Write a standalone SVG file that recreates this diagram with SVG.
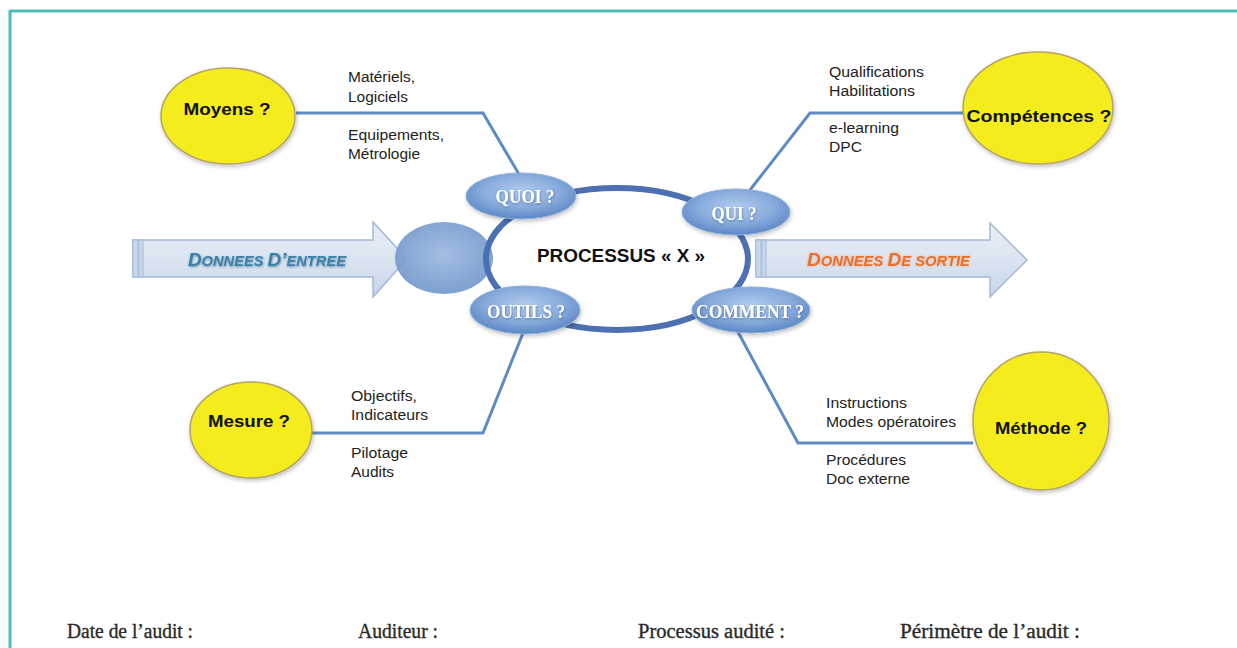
<svg xmlns="http://www.w3.org/2000/svg" width="1237" height="648" viewBox="0 0 1237 648">
<defs>
  <radialGradient id="bub" cx="50%" cy="40%" r="60%">
    <stop offset="0" stop-color="#b3cdee"/>
    <stop offset="0.6" stop-color="#86aadb"/>
    <stop offset="1" stop-color="#5b87c4"/>
  </radialGradient>
  <radialGradient id="blob" cx="50%" cy="45%" r="60%">
    <stop offset="0" stop-color="#9ab8e0"/>
    <stop offset="1" stop-color="#6f95c9"/>
  </radialGradient>
  <linearGradient id="arr" x1="0" y1="0" x2="0" y2="1">
    <stop offset="0" stop-color="#e6edf6"/>
    <stop offset="0.5" stop-color="#dbe5f1"/>
    <stop offset="1" stop-color="#c6d5e8"/>
  </linearGradient>
  <filter id="sh" x="-20%" y="-20%" width="140%" height="150%">
    <feDropShadow dx="1" dy="2" stdDeviation="2" flood-color="#000" flood-opacity="0.25"/>
  </filter>
  <filter id="glowO" x="-10%" y="-40%" width="120%" height="180%">
    <feDropShadow dx="0" dy="0" stdDeviation="1.5" flood-color="#f4a070" flood-opacity="0.8"/>
  </filter>
  <filter id="tsh" x="-10%" y="-30%" width="120%" height="160%">
    <feDropShadow dx="0.5" dy="1" stdDeviation="0.8" flood-color="#2a4f80" flood-opacity="0.6"/>
  </filter>
</defs>
<style>
  .frame{stroke:#4dbdb5;stroke-width:3;fill:none}
  .yel{fill:#f4ec1c;stroke:#b4a466;stroke-width:1.5;filter:url(#sh)}
  .ytx{font-family:"Liberation Sans",Arial,sans-serif;font-weight:bold;font-size:17px;fill:#111;text-anchor:middle}
  .bub{fill:url(#bub);stroke:#8eb0dc;stroke-width:1;filter:url(#sh)}
  .btx{font-family:"Liberation Serif","Times New Roman",serif;font-weight:bold;font-size:19px;fill:#fff;text-anchor:middle;filter:url(#tsh)}
  .lbl{font-family:"Liberation Sans",Arial,sans-serif;font-size:14px;fill:#222}
  .con{fill:none;stroke:#5f8ac4;stroke-width:3;stroke-linejoin:miter}
  .ring{fill:none;stroke:#4d70b3;stroke-width:6}
  .arrow{fill:url(#arr);stroke:#a4b9d5;stroke-width:1.5}
  .bar{fill:#c9d8ea;stroke:#a4b9d5;stroke-width:1}
  .foot{font-family:"Liberation Serif","Times New Roman",serif;font-size:20px;fill:#2a2a2a;stroke:#2a2a2a;stroke-width:0.35}
</style>

<rect width="1237" height="648" fill="#fff"/>
<g id="frame">
  <line class="frame" x1="10" y1="11" x2="1237" y2="11"/>
  <line class="frame" x1="10" y1="10" x2="10" y2="648"/>
</g>

<g id="connectors">
  <polyline class="con" points="296,113 483,113 520,176"/>
  <polyline class="con" points="963,113 810,113 750,190"/>
  <polyline class="con" points="312,433 483,433 523,333"/>
  <polyline class="con" points="738,332 798,443 973,443"/>
</g>

<g id="input-arrow">
  <path class="arrow" d="M133,240 H373 V222 L407,259 L373,297 V277 H133 Z"/>
  <rect class="bar" x="133" y="240" width="5" height="37"/>
  <rect class="bar" x="139" y="240" width="4" height="37"/>
  <text x="188" y="266" textLength="158" lengthAdjust="spacingAndGlyphs" font-family="Liberation Sans, Arial, sans-serif" font-weight="bold" font-style="italic" fill="#3a82aa" filter="url(#tsh)"><tspan font-size="18">D</tspan><tspan font-size="14">ONNEES </tspan><tspan font-size="18">D’</tspan><tspan font-size="14">ENTREE</tspan></text>
</g>

<g id="entry-blob">
  <ellipse cx="444" cy="258" rx="49" ry="36" fill="url(#blob)" opacity="0.92"/>
</g>

<g id="output-arrow">
  <path class="arrow" d="M756,240 H990 V223 L1027,260 L990,297 V277 H756 Z"/>
  <rect class="bar" x="756" y="240" width="5" height="37"/>
  <rect class="bar" x="762" y="240" width="4" height="37"/>
  <text x="807" y="266" textLength="163" lengthAdjust="spacingAndGlyphs" font-family="Liberation Sans, Arial, sans-serif" font-weight="bold" font-style="italic" fill="#e8702a" filter="url(#glowO)"><tspan font-size="18">D</tspan><tspan font-size="14">ONNEES </tspan><tspan font-size="18">D</tspan><tspan font-size="14">E SORTIE</tspan></text>
</g>

<g id="process">
  <ellipse class="ring" cx="617" cy="259" rx="131" ry="71"/>
  <text x="621" y="262" textLength="168" lengthAdjust="spacingAndGlyphs" font-family="Liberation Sans, Arial, sans-serif" font-weight="bold" font-size="18" fill="#111" text-anchor="middle">PROCESSUS « X »</text>
</g>

<g id="quoi">
  <ellipse class="bub" cx="521" cy="196" rx="55" ry="23"/>
  <text class="btx" x="525" y="203" textLength="59" lengthAdjust="spacingAndGlyphs">QUOI ?</text>
</g>
<g id="qui">
  <ellipse class="bub" cx="736" cy="212" rx="54" ry="23"/>
  <text class="btx" x="734" y="220" textLength="45" lengthAdjust="spacingAndGlyphs">QUI ?</text>
</g>
<g id="outils">
  <ellipse class="bub" cx="525" cy="310" rx="55" ry="24"/>
  <text class="btx" x="526" y="318" textLength="78" lengthAdjust="spacingAndGlyphs">OUTILS ?</text>
</g>
<g id="comment">
  <ellipse class="bub" cx="751" cy="310" rx="59" ry="23"/>
  <text class="btx" x="750" y="318" textLength="108" lengthAdjust="spacingAndGlyphs">COMMENT ?</text>
</g>

<g id="moyens">
  <ellipse class="yel" cx="228" cy="116" rx="67" ry="48"/>
  <text class="ytx" x="227" y="115" textLength="87" lengthAdjust="spacingAndGlyphs">Moyens ?</text>
</g>
<g id="competences">
  <ellipse class="yel" cx="1038" cy="108" rx="75" ry="56"/>
  <text class="ytx" x="1039" y="122" textLength="145" lengthAdjust="spacingAndGlyphs">Compétences ?</text>
</g>
<g id="mesure">
  <ellipse class="yel" cx="251" cy="430" rx="61" ry="48"/>
  <text class="ytx" x="249" y="427" textLength="82" lengthAdjust="spacingAndGlyphs">Mesure ?</text>
</g>
<g id="methode">
  <ellipse class="yel" cx="1041" cy="421" rx="68" ry="69"/>
  <text class="ytx" x="1041" y="434" textLength="92" lengthAdjust="spacingAndGlyphs">Méthode ?</text>
</g>

<g id="labels">
  <text class="lbl" x="348" y="82" textLength="67" lengthAdjust="spacingAndGlyphs">Matériels,</text>
  <text class="lbl" x="348" y="102" textLength="60" lengthAdjust="spacingAndGlyphs">Logiciels</text>
  <text class="lbl" x="348" y="140" textLength="96" lengthAdjust="spacingAndGlyphs">Equipements,</text>
  <text class="lbl" x="348" y="159" textLength="72" lengthAdjust="spacingAndGlyphs">Métrologie</text>

  <text class="lbl" x="829" y="77" textLength="95" lengthAdjust="spacingAndGlyphs">Qualifications</text>
  <text class="lbl" x="829" y="96" textLength="86" lengthAdjust="spacingAndGlyphs">Habilitations</text>
  <text class="lbl" x="829" y="133" textLength="70" lengthAdjust="spacingAndGlyphs">e-learning</text>
  <text class="lbl" x="829" y="152" textLength="33" lengthAdjust="spacingAndGlyphs">DPC</text>

  <text class="lbl" x="351" y="401" textLength="66" lengthAdjust="spacingAndGlyphs">Objectifs,</text>
  <text class="lbl" x="351" y="420" textLength="77" lengthAdjust="spacingAndGlyphs">Indicateurs</text>
  <text class="lbl" x="351" y="458" textLength="57" lengthAdjust="spacingAndGlyphs">Pilotage</text>
  <text class="lbl" x="351" y="477" textLength="43" lengthAdjust="spacingAndGlyphs">Audits</text>

  <text class="lbl" x="826" y="408" textLength="81" lengthAdjust="spacingAndGlyphs">Instructions</text>
  <text class="lbl" x="826" y="427" textLength="130" lengthAdjust="spacingAndGlyphs">Modes opératoires</text>
  <text class="lbl" x="826" y="465" textLength="80" lengthAdjust="spacingAndGlyphs">Procédures</text>
  <text class="lbl" x="826" y="484" textLength="84" lengthAdjust="spacingAndGlyphs">Doc externe</text>
</g>

<g id="footer">
  <text class="foot" x="67" y="638" textLength="126" lengthAdjust="spacingAndGlyphs">Date de l’audit :</text>
  <text class="foot" x="358" y="638" textLength="80" lengthAdjust="spacingAndGlyphs">Auditeur :</text>
  <text class="foot" x="638" y="638" textLength="147" lengthAdjust="spacingAndGlyphs">Processus audité :</text>
  <text class="foot" x="900" y="638" textLength="180" lengthAdjust="spacingAndGlyphs">Périmètre de l’audit :</text>
</g>
</svg>
